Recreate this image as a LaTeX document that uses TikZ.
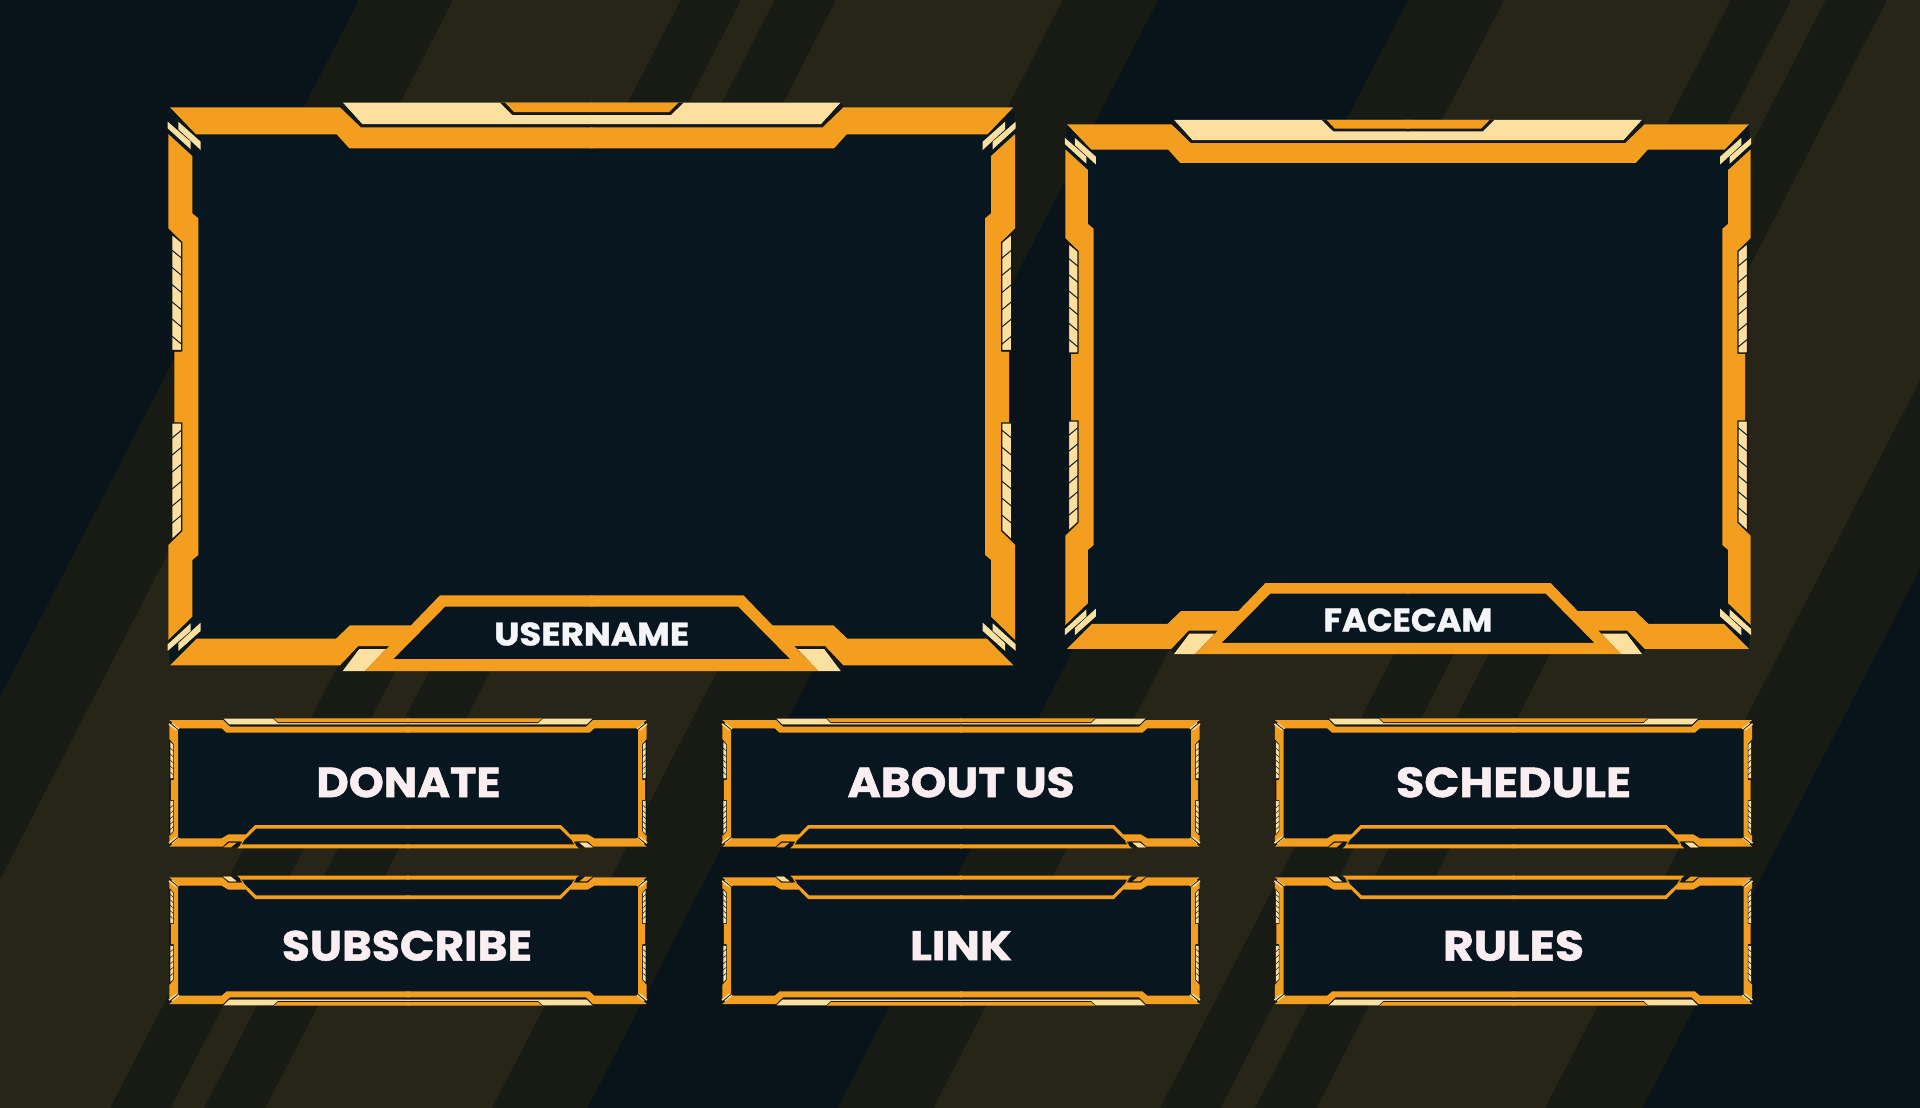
\documentclass[tikz,border=0pt]{standalone}
\usepackage{fontspec}
\usepackage{graphicx}
\setmainfont{Poppins}[BoldFeatures={FakeBold=1.2}]
\definecolor{bgD}{HTML}{09131A}
\definecolor{bgM}{HTML}{171B14}
\definecolor{bgO}{HTML}{272418}
\definecolor{panel}{HTML}{08161F}
\definecolor{orng}{HTML}{F49E1F}
\definecolor{crm}{HTML}{FCE0A0}
\definecolor{ink}{HTML}{14181A}
\definecolor{txtA}{HTML}{F3F5F8}
\definecolor{txtB}{HTML}{FBEEF0}
\tikzset{
  panelfill/.style={fill=panel},
  barfill/.style={fill=orng},
  creamfill/.style={fill=crm},
  inkfill/.style={fill=ink},
  stripbox/.style={fill=crm,draw=ink,line width=1.3pt},
  hatchline/.style={draw=ink,line width=1pt},
  stripsmall/.style={fill=crm,draw=ink,line width=.5pt},
  hatchsmall/.style={draw=ink,line width=.5pt},
  cornerline/.style={draw=crm,line width=1.2pt},
  lbl/.style={inner sep=0pt,outer sep=0pt,font=\bfseries},
}
\newcommand{\bandfill}[3]{\fill[#3] (#1,0) -- (#2,0) -- ({#2-570.6},1108) -- ({#1-570.6},1108) -- cycle;}
% big frame: #1 half width in local units
\newcommand{\bigfr}[1]{%
  \pgfmathsetmacro{\ea}{-#1}%
  \foreach \m in {1,-1}{
    \begin{scope}[xscale=\m]
      \fill[panelfill] ({\ea+1.7},0) -- (1,0) -- (1,558) -- ({\ea+1.7},558) -- (\ea,532.7) -- (\ea,437.7) -- ({\ea+13},424) -- ({\ea+13},134) -- (\ea,121) -- (\ea,26.7) -- cycle;
    \end{scope}
  }
  \foreach \m in {1,-1}{
    \begin{scope}[xscale=\m]
      \fill[creamfill] (-249,-4.6) -- (1,-4.6) -- (1,17) -- (-229.4,17) -- cycle;
    \end{scope}
  }
  \foreach \m in {1,-1}{
    \begin{scope}[xscale=\m]
      \fill[inkfill] (-251.7,-2) -- (-231,20) -- (1,20) -- (1,17) -- (-229.4,17) -- (-249,-4.6) -- cycle;
      \fill[inkfill] (-91.7,-4.6) -- (-79.4,7.5) -- (1,7.5) -- (1,-4.6) -- cycle;
    \end{scope}
  }
  \foreach \m in {1,-1}{
    \begin{scope}[xscale=\m]
      \fill[barfill] (-86.7,-4.6) -- (-77.5,4.7) -- (1,4.7) -- (1,-4.6) -- cycle;
      % top bar
      \fill[barfill] ({\ea+1.7},0) -- (-251.7,0) -- (-231,20) -- (1,20) -- (1,41) -- (-242.4,41) -- (-255,27) -- ({\ea+27.7},27) -- cycle;
      % side bar
      \fill[barfill] (\ea,26.7) -- ({\ea+24},48.7) -- ({\ea+24},106) -- ({\ea+30},111) -- ({\ea+30},447.7) -- ({\ea+24},452.7) -- ({\ea+24},509.4) -- (\ea,532.7) -- (\ea,437.7) -- ({\ea+13.4},424.4) -- ({\ea+13.4},315.7) -- ({\ea+6},315.7) -- ({\ea+6},244.4) -- ({\ea+13.4},244.4) -- ({\ea+13.4},134.4) -- (\ea,121) -- cycle;
      % side strips
      \draw[stripbox] ({\ea+3.4},126.7) -- ({\ea+13.4},135) -- ({\ea+13.4},243.3) -- ({\ea+3.4},243.3) -- cycle;
      \foreach \k in {0,...,5}{\draw[hatchline] ({\ea+3.4},{142.7+17.2*\k}) -- ({\ea+13.4},{151+17.2*\k});}
      \draw[stripbox] ({\ea+3.4},315.7) -- ({\ea+13.4},315.7) -- ({\ea+13.4},423.4) -- ({\ea+3.4},432.7) -- cycle;
      \foreach \k in {0,...,5}{\draw[hatchline] ({\ea+3.4},{331+17*\k}) -- ({\ea+13.4},{322.7+17*\k});}
      % corner slivers
      \fill[creamfill] ({\ea-.6},14.4) -- ({\ea+22.4},34.4) -- ({\ea+22.4},42) -- ({\ea-.6},21) -- cycle;
      \fill[creamfill] ({\ea+10},14.4) -- ({\ea+32.4},34.4) -- ({\ea+32.4},42.7) -- ({\ea+10},22) -- cycle;
      \fill[creamfill] ({\ea-.6},543.6) -- ({\ea+22.4},523.6) -- ({\ea+22.4},516) -- ({\ea-.6},537) -- cycle;
      \fill[creamfill] ({\ea+10},543.6) -- ({\ea+32.4},523.6) -- ({\ea+32.4},515.3) -- ({\ea+10},536) -- cycle;
      % bottom bar with label
      \fill[inkfill] (-251.7,560) -- (-233.4,538.7) -- (-203,538.7) -- (-205.7,541.7) -- (-232.4,541.7) -- (-249,563.7) -- cycle;
      \fill[creamfill] (-249,563.7) -- (-232.4,541.7) -- (-205.7,541.7) -- (-226.7,563.7) -- cycle;
      \fill[barfill] ({\ea+1.7},558) -- ({\ea+28.4},531.4) -- (-255.7,531.4) -- (-241.7,518) -- (-180.7,518) -- (-151.7,488) -- (1,488) -- (1,499.4) -- (-146.7,499.4) -- (-198.4,551.7) -- (1,551.7) -- (1,563.7) -- (-226.7,563.7) -- (-202.4,538.7) -- (-233.4,538.7) -- (-251.7,558) -- cycle;
    \end{scope}
  }
}
% small frame: #1 is the side (1 or -1) that holds the cream chip in local coordinates
\newcommand{\smallfr}[1]{%
  \pgfmathsetmacro{\ea}{-238.7}%
  \foreach \m in {1,-1}{
    \begin{scope}[xscale=\m]
      \fill[panelfill] ({\ea+1},0) -- (1,0) -- (1,127) -- ({\ea+1},127) -- (\ea,124) -- (\ea,3) -- cycle;
    \end{scope}
  }
  \foreach \m in {1,-1}{
    \begin{scope}[xscale=\m]
      \fill[creamfill] (-184.7,-1.3) -- (1,-1.3) -- (1,4.7) -- (-178.7,4.7) -- cycle;
    \end{scope}
  }
  \foreach \m in {1,-1}{
    \begin{scope}[xscale=\m]
      \fill[inkfill] (-186,-.5) -- (-178,6.7) -- (1,6.7) -- (1,4.7) -- (-178.7,4.7) -- (-184.7,-1.3) -- cycle;
      \fill[inkfill] (-135,-1.7) -- (-130,3) -- (1,3) -- (1,-1.7) -- cycle;
    \end{scope}
  }
  \foreach \m in {1,-1}{
    \begin{scope}[xscale=\m]
      \fill[barfill] (-134,-1.7) -- (-130,2) -- (1,2) -- (1,-1.7) -- cycle;
      \fill[barfill] (\ea,0) -- (-185,0) -- (-178,6.7) -- (1,6.7) -- (1,12.7) -- (-181.3,12.7) -- (-186.3,8.3) -- ({\ea+9.5},8.3) -- cycle;
      \fill[barfill] (\ea,3) -- ({\ea+8.7},10) -- ({\ea+8.7},117) -- (\ea,124) -- (\ea,115.7) -- ({\ea+4.3},111) -- ({\ea+4.3},80) -- ({\ea+1.5},80) -- ({\ea+1.5},60) -- ({\ea+4.3},60) -- ({\ea+4.3},24) -- (\ea,19) -- cycle;
      \draw[stripsmall] ({\ea+.8},21) -- ({\ea+4.2},24.5) -- ({\ea+4.2},58.5) -- ({\ea+.8},58.5) -- cycle;
      \draw[stripsmall] ({\ea+.8},80.7) -- ({\ea+4.2},80.7) -- ({\ea+4.2},111) -- ({\ea+.8},115) -- cycle;
      \foreach \k in {0,...,4}{
        \draw[hatchsmall] ({\ea+.8},{28+6*\k}) -- ({\ea+4.2},{31+6*\k});
        \draw[hatchsmall] ({\ea+.8},{88+5.4*\k}) -- ({\ea+4.2},{85+5.4*\k});
      }
      \draw[cornerline] ({\ea-.4},4) -- ({\ea+7},10);
      \draw[cornerline] ({\ea+2.6},3) -- ({\ea+9.8},9);
      \draw[cornerline] ({\ea-.4},123) -- ({\ea+7},117);
      \draw[cornerline] ({\ea+2.6},124) -- ({\ea+9.8},118);
      \fill[barfill] (\ea,126.7) -- ({\ea+9.5},118.3) -- (-186.3,118.3) -- (-179.5,114.3) -- (-162,114.3) -- (-153,105) -- (1,105) -- (1,108.7) -- (-152,108.7) -- (-168,124.3) -- (1,124.3) -- (1,128.3) -- (-170.7,128.3) -- (-164,121.7) -- (-179.7,121.7) -- (-184.7,126.7) -- cycle;
      \fill[barfill] (-184.7,127.3) -- (-179,122.7) -- (-171.5,122.7) -- (-177,127.3) -- cycle;
      \draw[draw=ink,line width=.6pt] (-185,126.7) -- (-179.7,121.9) -- (-168,121.9);
    \end{scope}
  }
  \begin{scope}[xscale=#1]
    \fill[creamfill] (-184.7,127.3) -- (-179,122.7) -- (-171.5,122.7) -- (-177,127.3) -- cycle;
  \end{scope}
}
\begin{document}
\begin{tikzpicture}[x=1pt,y=-1pt]
  \useasboundingbox (0,0) rectangle (1920,1108);
  \clip (0,0) rectangle (1920,1108);
  \fill[bgD] (0,0) rectangle (1920,1108);
  \bandfill{359}{453}{bgM}
  \bandfill{453}{681}{bgO}
  \bandfill{681}{741}{bgM}
  \bandfill{741}{775}{bgO}
  \bandfill{775}{836}{bgM}
  \bandfill{836}{1063}{bgO}
  \bandfill{1063}{1158}{bgM}
  \bandfill{1408}{1504}{bgM}
  \bandfill{1504}{1731}{bgO}
  \bandfill{1731}{1791}{bgM}
  \bandfill{1791}{1826}{bgO}
  \bandfill{1826}{1887}{bgM}
  \bandfill{1887}{2116}{bgO}
  \bandfill{2116}{2213}{bgM}

  \begin{scope}[shift={(591.7,107.3)}]
    \bigfr{423.4}
  \end{scope}
  \begin{scope}[shift={(1408,124.3)},scale=.94]
    \bigfr{364.5}
  \end{scope}

  \begin{scope}[shift={(408,720)}]\smallfr{-1}\end{scope}
  \begin{scope}[shift={(961,720)}]\smallfr{-1}\end{scope}
  \begin{scope}[shift={(1513.5,720)}]\smallfr{-1}\end{scope}
  \begin{scope}[shift={(408,1004)},yscale=-1]\smallfr{1}\end{scope}
  \begin{scope}[shift={(961,1004)},yscale=-1]\smallfr{1}\end{scope}
  \begin{scope}[shift={(1513.5,1004)},yscale=-1]\smallfr{1}\end{scope}

  \node[lbl,text=txtA] (username) at (591.7,634) {\resizebox{195pt}{23pt}{USERNAME}};
  \node[lbl,text=txtA] (facecam) at (1408,620) {\resizebox{169pt}{23pt}{FACECAM}};
  \node[lbl,text=txtB] (donate) at (408.5,782.3) {\resizebox{184pt}{30pt}{DONATE}};
  \node[lbl,text=txtB] (aboutus) at (961,782.3) {\resizebox{227pt}{30pt}{ABOUT US}};
  \node[lbl,text=txtB] (schedule) at (1513.5,782.3) {\resizebox{235pt}{30pt}{SCHEDULE}};
  \node[lbl,text=txtB] (subscribe) at (407,945.7) {\resizebox{250pt}{30pt}{SUBSCRIBE}};
  \node[lbl,text=txtB] (link) at (961,945.7) {\resizebox{102pt}{29pt}{LINK}};
  \node[lbl,text=txtB] (rules) at (1513.5,945.7) {\resizebox{141pt}{30pt}{RULES}};
\end{tikzpicture}
\end{document}
